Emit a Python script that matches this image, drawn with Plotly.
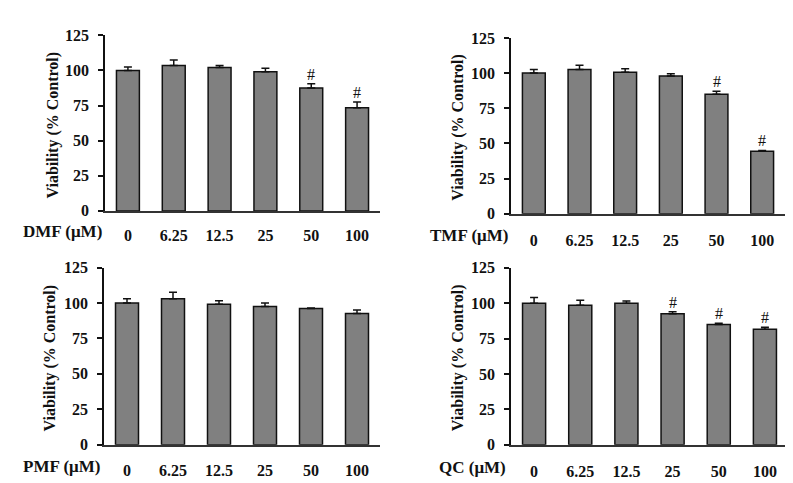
import plotly.graph_objects as go

W, H = 793, 483

categories = ["0", "6.25", "12.5", "25", "50", "100"]

dmf = [100, 103.5, 102, 99, 87.5, 73.5]
dmf_err = [2.5, 4, 1.5, 2.5, 3, 4]
dmf_sig = [False, False, False, False, True, True]

tmf = [100, 102.5, 100.5, 98, 85, 44.5]
tmf_err = [2.5, 3, 2.5, 1.5, 2, 0.5]
tmf_sig = [False, False, False, False, True, True]

pmf = [100, 103, 99, 97.5, 96, 92.5]
pmf_err = [3, 4.5, 2.5, 2.5, 0.5, 2.5]
pmf_sig = [False, False, False, False, False, False]

qc = [100, 98.5, 100, 92.5, 85, 81.5]
qc_err = [4, 3.5, 1.5, 1.5, 0.8, 1.5]
qc_sig = [False, False, False, True, True, True]

panel_labels = ["DMF (\u03bcM)", "TMF (\u03bcM)", "PMF (\u03bcM)", "QC (\u03bcM)"]
y_title = "Viability (% Control)"
y_ticks = [0, 25, 50, 75, 100, 125]

FONT = "Liberation Serif"

panels = [
    dict(vals=dmf, err=dmf_err, sig=dmf_sig, x0=97, x1=372, yt=20, yb=202, lab_r=96, ytx=45.5, laby=223),
    dict(vals=tmf, err=tmf_err, sig=tmf_sig, x0=503, x1=777, yt=22.7, yb=205, lab_r=502, ytx=450, laby=228),
    dict(vals=pmf, err=pmf_err, sig=pmf_sig, x0=96, x1=372, yt=260.7, yb=444.3, lab_r=94, ytx=42.5, laby=467),
    dict(vals=qc, err=qc_err, sig=qc_sig, x0=503, x1=780, yt=261, yb=444.3, lab_r=500, ytx=450, laby=467.5),
]

fig = go.Figure()
annotations = []
layout_axes = {}

for i, p in enumerate(panels):
    n = i + 1
    xa = "x" if n == 1 else f"x{n}"
    ya = "y" if n == 1 else f"y{n}"
    fig.add_trace(go.Bar(
        x=categories, y=p["vals"], xaxis=xa, yaxis=ya,
        marker=dict(color="#808080", line=dict(color="#111111", width=1.5)),
        error_y=dict(type="data", symmetric=False, array=p["err"],
                     arrayminus=[0] * len(p["err"]),
                     color="#111111", thickness=1.5, width=4),
        showlegend=False,
    ))
    xkey = "xaxis" if n == 1 else f"xaxis{n}"
    ykey = "yaxis" if n == 1 else f"yaxis{n}"
    layout_axes[xkey] = dict(
        domain=[p["x0"] / W, p["x1"] / W], anchor=ya, type="category",
        range=[-0.5, 5.5], showline=True, linecolor="#333333", linewidth=1.5,
        ticks="", showgrid=False, zeroline=False,
        tickfont=dict(family=FONT, size=16, color="#111111", weight="bold"),
        ticklabelstandoff=int(p["laby"] - p["yb"] - 12),
    )
    layout_axes[ykey] = dict(
        domain=[1 - p["yb"] / H, 1 - p["yt"] / H], anchor=xa,
        range=[0, 125], tickvals=y_ticks, showline=True, linecolor="#111111",
        linewidth=1.5, ticks="outside", ticklen=5, tickwidth=1.5, tickcolor="#111111",
        showgrid=False, zeroline=False, ticklabelstandoff=6,
        tickfont=dict(family=FONT, size=16, color="#111111", weight="bold"),
    )
    annotations.append(dict(
        text=panel_labels[i], xref="paper", yref="paper",
        x=p["lab_r"] / W, y=1 - p["laby"] / H, xanchor="right", yanchor="middle",
        showarrow=False, font=dict(family=FONT, size=17, color="#111111", weight="bold"),
    ))
    annotations.append(dict(
        text=y_title, xref="paper", yref="paper", textangle=-90,
        x=p["ytx"] / W, y=1 - ((p["yt"] + p["yb"]) / 2 + 2) / H,
        xanchor="center", yanchor="middle", showarrow=False,
        font=dict(family=FONT, size=16, color="#111111", weight="bold"),
    ))
    for j, (v, e, s) in enumerate(zip(p["vals"], p["err"], p["sig"])):
        if s:
            annotations.append(dict(
                text="#", x=j, y=v + e, xref=xa, yref=ya,
                xanchor="center", yanchor="bottom", showarrow=False, yshift=-1,
                font=dict(family=FONT, size=16, color="#111111"),
            ))

fig.update_layout(
    width=W, height=H, margin=dict(l=0, r=0, t=0, b=0),
    paper_bgcolor="white", plot_bgcolor="white",
    bargap=0.5, annotations=annotations,
    font=dict(family=FONT, size=15, color="#111111"),
    **layout_axes,
)

fig.write_html("out.html")
